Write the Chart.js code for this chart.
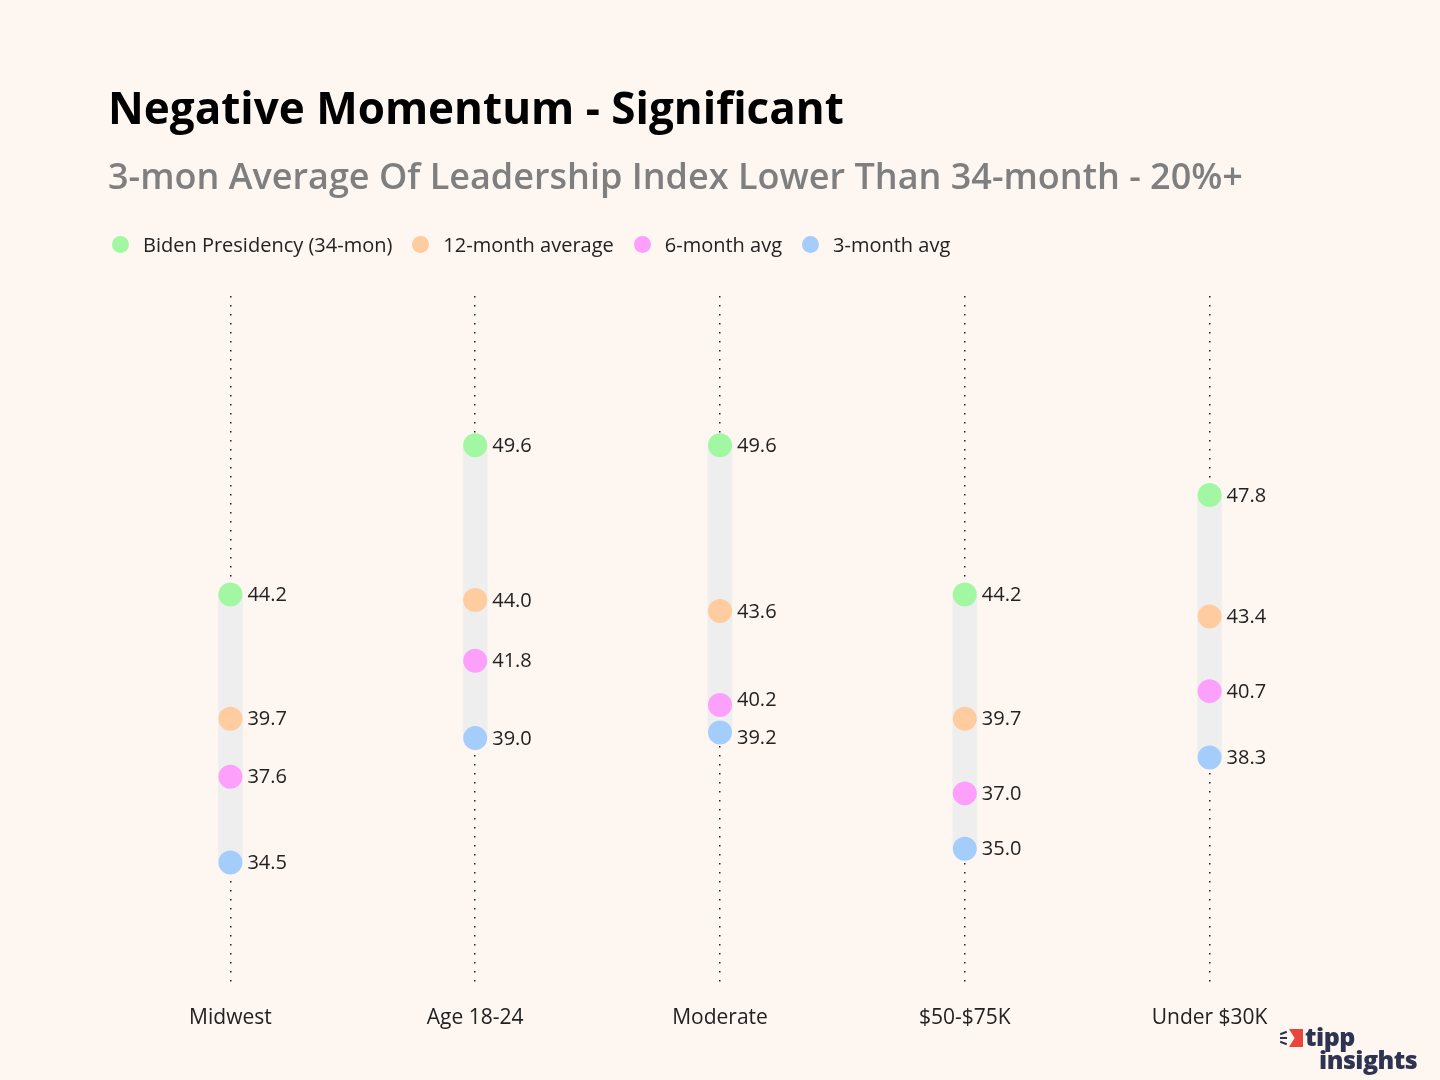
<!DOCTYPE html>
<html>
<head>
<meta charset="utf-8">
<script src="https://cdn.jsdelivr.net/npm/chart.js@4.4.1/dist/chart.umd.min.js"></script>
<style>
  html, body { margin: 0; padding: 0; background: #fdf6f1; }
  #wrap { position: relative; width: 1440px; height: 1080px; font-family: 'Open Sans', sans-serif; }
  #legend {
    position: absolute; left: 112px; top: 231px; height: 26px;
    display: flex; align-items: center; gap: 20px;
    font-size: 20px; color: #222;
  }
  #legend .item { display: flex; align-items: center; }
  #legend .dot { width: 17px; height: 17px; border-radius: 50%; margin-right: 14px; }
  #logo {
    position: absolute; left: 1280px; top: 1024px;
    font-weight: 800; color: #2d3350; line-height: 22px; font-size: 25px; letter-spacing: -0.5px;
  }
  #logo .flag {
    position: absolute; left: 9px; top: 5px; width: 14px; height: 18px;
    background: #e8463c; clip-path: polygon(0 0, 100% 0, 100% 100%, 0 100%, 40% 50%);
  }
  #logo .ray { position: absolute; left: 0; width: 7px; height: 2px; background: #2d3350; }
  #logo .l1 { position: absolute; left: 25px; top: 1px; }
  #logo .l2 { position: absolute; left: 39px; top: 24px; }
</style>
</head>
<body>
<div id="wrap">
  <canvas id="chart" width="1440" height="1080"></canvas>
  <div id="legend"></div>
  <div id="logo">
    <span class="ray" style="top:8px;transform:rotate(-20deg)"></span>
    <span class="ray" style="top:13px"></span>
    <span class="ray" style="top:18px;transform:rotate(20deg)"></span>
    <span class="flag"></span><span class="l1">tipp</span><span class="l2">insights</span>
  </div>
</div>
<script>
// ─────────────────────────────────────────────
// Data
// ─────────────────────────────────────────────
const categories = ['Midwest', 'Age 18-24', 'Moderate', '$50-$75K', 'Under $30K'];
const biden34    = [44.2, 49.6, 49.6, 44.2, 47.8];
const avg12      = [39.7, 44.0, 43.6, 39.7, 43.4];
const avg6       = [37.6, 41.8, 40.2, 37.0, 40.7];
const avg3       = [34.5, 39.0, 39.2, 35.0, 38.3];

const seriesNames  = ['Biden Presidency (34-mon)', '12-month average', '6-month avg', '3-month avg'];
const seriesColors = ['#a2f8a2', '#fecc9f', '#fda0fb', '#a5cdfb'];
const seriesData   = [biden34, avg12, avg6, avg3];

// grey range bar behind the dots: min..max per category
const ranges = categories.map((_, i) => {
  const vals = seriesData.map(s => s[i]);
  return [Math.min(...vals), Math.max(...vals)];
});

// ─────────────────────────────────────────────
// Legend (HTML)
// ─────────────────────────────────────────────
const legendEl = document.getElementById('legend');
seriesNames.forEach((name, i) => {
  const div = document.createElement('div');
  div.className = 'item';
  div.innerHTML = `<span class="dot" style="background:${seriesColors[i]}"></span><span>${name}</span>`;
  legendEl.appendChild(div);
});

// ─────────────────────────────────────────────
// Value labels next to the dots (with simple collision push)
// ─────────────────────────────────────────────
const valueLabels = {
  id: 'valueLabels',
  afterDatasetsDraw(chart) {
    const ctx = chart.ctx;
    ctx.save();
    ctx.font = '20px "Open Sans", sans-serif';
    ctx.fillStyle = '#222';
    ctx.textAlign = 'left';
    ctx.textBaseline = 'middle';
    categories.forEach((_, i) => {
      const items = [];
      chart.data.datasets.forEach((ds, di) => {
        if (ds.type !== 'line') return;
        const pt = chart.getDatasetMeta(di).data[i];
        items.push({ x: pt.x, y: pt.y, text: ds.data[i].toFixed(1) });
      });
      items.sort((a, b) => a.y - b.y);
      const minGap = 38;
      for (let k = 1; k < items.length; k++) {
        const gap = items[k].y - items[k - 1].y;
        if (gap < minGap) {
          const d = (minGap - gap) / 2;
          items[k - 1].y -= d;
          items[k].y += d;
        }
      }
      items.forEach(it => ctx.fillText(it.text, it.x + 17, it.y + 1));
    });
    ctx.restore();
  }
};

const datasets = seriesNames.map((name, i) => ({
  type: 'line',
  label: name,
  data: seriesData[i],
  showLine: false,
  backgroundColor: seriesColors[i],
  borderColor: seriesColors[i],
  pointRadius: 12,
  pointHoverRadius: 12,
  pointBorderWidth: 0,
  order: 0,
}));

datasets.push({
  type: 'bar',
  label: 'range',
  data: ranges,
  backgroundColor: '#eeeeee',
  barThickness: 24,
  borderWidth: 0,
  order: 1,
});

new Chart(document.getElementById('chart'), {
  data: { labels: categories, datasets },
  plugins: [valueLabels],
  options: {
    responsive: false,
    animation: false,
    layout: { padding: { left: 108, right: 108, top: 85, bottom: 30 } },
    plugins: {
      tooltip: { enabled: false },
      legend: { display: false },
      title: {
        display: true,
        text: 'Negative Momentum - Significant',
        align: 'start',
        color: '#000',
        font: { family: 'Open Sans', size: 44, weight: '700' },
        padding: { top: 0, bottom: 19 },
      },
      subtitle: {
        display: true,
        text: '3-mon Average Of Leadership Index Lower Than 34-month - 20%+',
        align: 'start',
        color: '#7f7f7f',
        font: { family: 'Open Sans', size: 36, weight: '600' },
        padding: { top: 0, bottom: 96 },
      },
    },
    scales: {
      x: {
        offset: true,
        grid: { offset: false, color: '#222', lineWidth: 1.5, drawTicks: false },
        border: { display: false, dash: [1.5, 7.5] },
        ticks: { color: '#222', font: { family: 'Open Sans', size: 21 }, padding: 19 },
      },
      y: { display: false, min: 30, max: 55 },
    },
  },
});
</script>
</body>
</html>
